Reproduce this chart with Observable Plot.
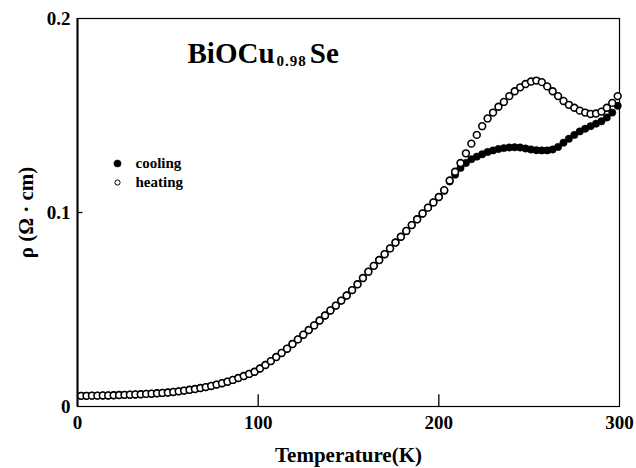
<!DOCTYPE html>
<html>
<head>
<meta charset="utf-8">
<script src="https://cdn.jsdelivr.net/npm/d3@7"></script>
<script src="https://cdn.jsdelivr.net/npm/@observablehq/plot@0.6"></script>
<style>
  html, body { margin: 0; padding: 0; background: #fff; }
  #chart svg text { font-weight: bold; }
</style>
</head>
<body>
<div id="chart"></div>
<script>
// Temperature (K) of each measured point
const temps = [2,5,8,11,14,17,20,23,26,29,32,35,38,41,44,47,50,53,56,59,
  62,65,68,71,74,77,80,83,86,89,92,95,98,101,104,107,110,113,116,119,
  122,125,128,131,134,137,140,143,146,149,152,155,158,161,164,167,170,173,176,179,
  182,185,188,191,194,197,200,203,206,209,212,215,218,221,224,227,230,233,236,239,
  242,245,248,251,254,257,260,263,266,269,272,275,278,281,284,287,290,293,296,299];

// Resistivity (Ω·cm), heating run (open circles)
const heating = [0.0055,0.0055,0.0056,0.0056,0.0057,0.0057,0.0058,0.0059,0.0060,0.0061,
  0.0062,0.0063,0.0065,0.0066,0.0068,0.0070,0.0072,0.0075,0.0078,0.0082,
  0.0086,0.0090,0.0095,0.0100,0.0106,0.0113,0.0120,0.0128,0.0137,0.0147,
  0.0157,0.0168,0.0179,0.0196,0.0214,0.0234,0.0255,0.0276,0.0298,0.0322,
  0.0346,0.0370,0.0394,0.0418,0.0443,0.0469,0.0495,0.0520,0.0546,0.0572,
  0.0600,0.0630,0.0662,0.0695,0.0725,0.0755,0.0785,0.0815,0.0845,0.0875,
  0.0905,0.0935,0.0965,0.0995,0.1025,0.1052,0.1080,0.1115,0.1165,0.1210,
  0.1255,0.1305,0.1355,0.1400,0.1445,0.1485,0.1515,0.1545,0.1570,0.1600,
  0.1625,0.1645,0.1662,0.1675,0.1680,0.1672,0.1650,0.1625,0.1600,0.1575,
  0.1555,0.1540,0.1525,0.1515,0.1508,0.1510,0.1520,0.1540,0.1565,0.1600];

// Resistivity (Ω·cm), cooling run (filled circles)
const cooling = [0.0055,0.0055,0.0056,0.0056,0.0057,0.0057,0.0058,0.0059,0.0060,0.0061,
  0.0062,0.0063,0.0065,0.0066,0.0068,0.0070,0.0072,0.0075,0.0078,0.0082,
  0.0086,0.0090,0.0095,0.0100,0.0106,0.0113,0.0120,0.0128,0.0137,0.0147,
  0.0157,0.0168,0.0179,0.0196,0.0214,0.0234,0.0255,0.0276,0.0298,0.0322,
  0.0346,0.0370,0.0394,0.0418,0.0443,0.0469,0.0495,0.0520,0.0546,0.0572,
  0.0600,0.0630,0.0662,0.0695,0.0725,0.0755,0.0785,0.0815,0.0845,0.0875,
  0.0905,0.0935,0.0965,0.0995,0.1025,0.1052,0.1080,0.1112,0.1160,0.1195,
  0.1230,0.1255,0.1275,0.1288,0.1300,0.1312,0.1320,0.1327,0.1332,0.1335,
  0.1336,0.1335,0.1330,0.1325,0.1321,0.1320,0.1320,0.1325,0.1338,0.1360,
  0.1380,0.1400,0.1418,0.1432,0.1445,0.1458,0.1470,0.1490,0.1515,0.1550];

const xTicks = [0, 100, 200, 300];
const yTicks = [0, 0.1, 0.2];
const xLabel = "Temperature(K)";
const yLabel = "ρ (Ω · cm)";
const titleMain = "BiOCu";
const titleSub = "0.98";
const titleEnd = "Se";
const legendItems = [
  {label: "cooling", fill: "black"},
  {label: "heating", fill: "white"}
];

const coolingData = temps.map((T, i) => ({T, rho: cooling[i]}));
const heatingData = temps.map((T, i) => ({T, rho: heating[i]}));
const titleFull = titleMain + titleSub + titleEnd;

const legendMarks = legendItems.flatMap((d, i) => [
  Plot.dot([d], {frameAnchor: "top-left", dx: 40, dy: 145 + i * 19, r: d.fill === "black" ? 3.6 : 2.6,
    fill: d.fill, stroke: "black", strokeWidth: d.fill === "black" ? 0.5 : 1}),
  Plot.text([d], {frameAnchor: "top-left", dx: 58, dy: 145 + i * 19, text: e => e.label,
    textAnchor: "start", lineAnchor: "middle", fontSize: 15, fontWeight: "bold", letterSpacing: 2})
]);

const chart = Plot.plot({
  width: 636,
  height: 468,
  marginLeft: 77,
  marginRight: 17,
  marginTop: 18,
  marginBottom: 62,
  style: {fontFamily: "'Liberation Serif', 'DejaVu Serif', serif", background: "white", color: "black"},
  x: {domain: [0, 300]},
  y: {domain: [0, 0.2]},
  marks: [
    Plot.frame({stroke: "black", strokeWidth: 1.2}),
    Plot.ruleX([0], {x: d => d, y1: 0, y2: 0.2, strokeWidth: 2}),
    Plot.ruleX(xTicks.slice(1, -1), {x: d => d, y1: 0, y2: 0.006, strokeWidth: 1.3}),
    Plot.ruleY(yTicks.slice(1, -1), {y: d => d, x1: 0, x2: 3, strokeWidth: 1.3}),
    Plot.axisX({ticks: xTicks, tickSize: 0, tickPadding: 9, fontSize: 19, fontWeight: "bold",
      label: null, tickFormat: d => String(d)}),
    Plot.axisY({ticks: yTicks, tickSize: 0, tickPadding: 7, fontSize: 19, fontWeight: "bold",
      label: null, tickFormat: d => String(d)}),
    Plot.dot(coolingData, {x: "T", y: "rho", r: 3.7, fill: "black", stroke: "black", strokeWidth: 0.5}),
    Plot.dot(heatingData, {x: "T", y: "rho", r: 3.4, fill: "white", stroke: "black", strokeWidth: 1.6}),
    Plot.text([xLabel], {frameAnchor: "bottom", dy: 49, text: d => d, textAnchor: "middle",
      lineAnchor: "middle", fontSize: 21, fontWeight: "bold"}),
    Plot.text([yLabel], {frameAnchor: "left", dx: -51, rotate: -90, text: d => d, textAnchor: "middle",
      lineAnchor: "middle", fontSize: 21, fontWeight: "bold"}),
    Plot.text([titleFull], {frameAnchor: "top-left", dx: 110, dy: 44, text: d => d, textAnchor: "start",
      lineAnchor: "bottom", fontSize: 29, fontWeight: "bold"}),
    ...legendMarks
  ]
});

// turn the title into "BiOCu" + subscript "0.98" + "Se"
d3.select(chart).selectAll("text").filter(function () { return this.textContent === titleFull; })
  .each(function () {
    const t = d3.select(this);
    t.text(null);
    t.append("tspan").text(titleMain);
    t.append("tspan").attr("font-size", 15).attr("dy", 3).attr("dx", 2).attr("letter-spacing", 1).text(titleSub);
    t.append("tspan").attr("dy", -3).attr("dx", 3).text(titleEnd);
  });

document.getElementById("chart").appendChild(chart);
</script>
</body>
</html>
